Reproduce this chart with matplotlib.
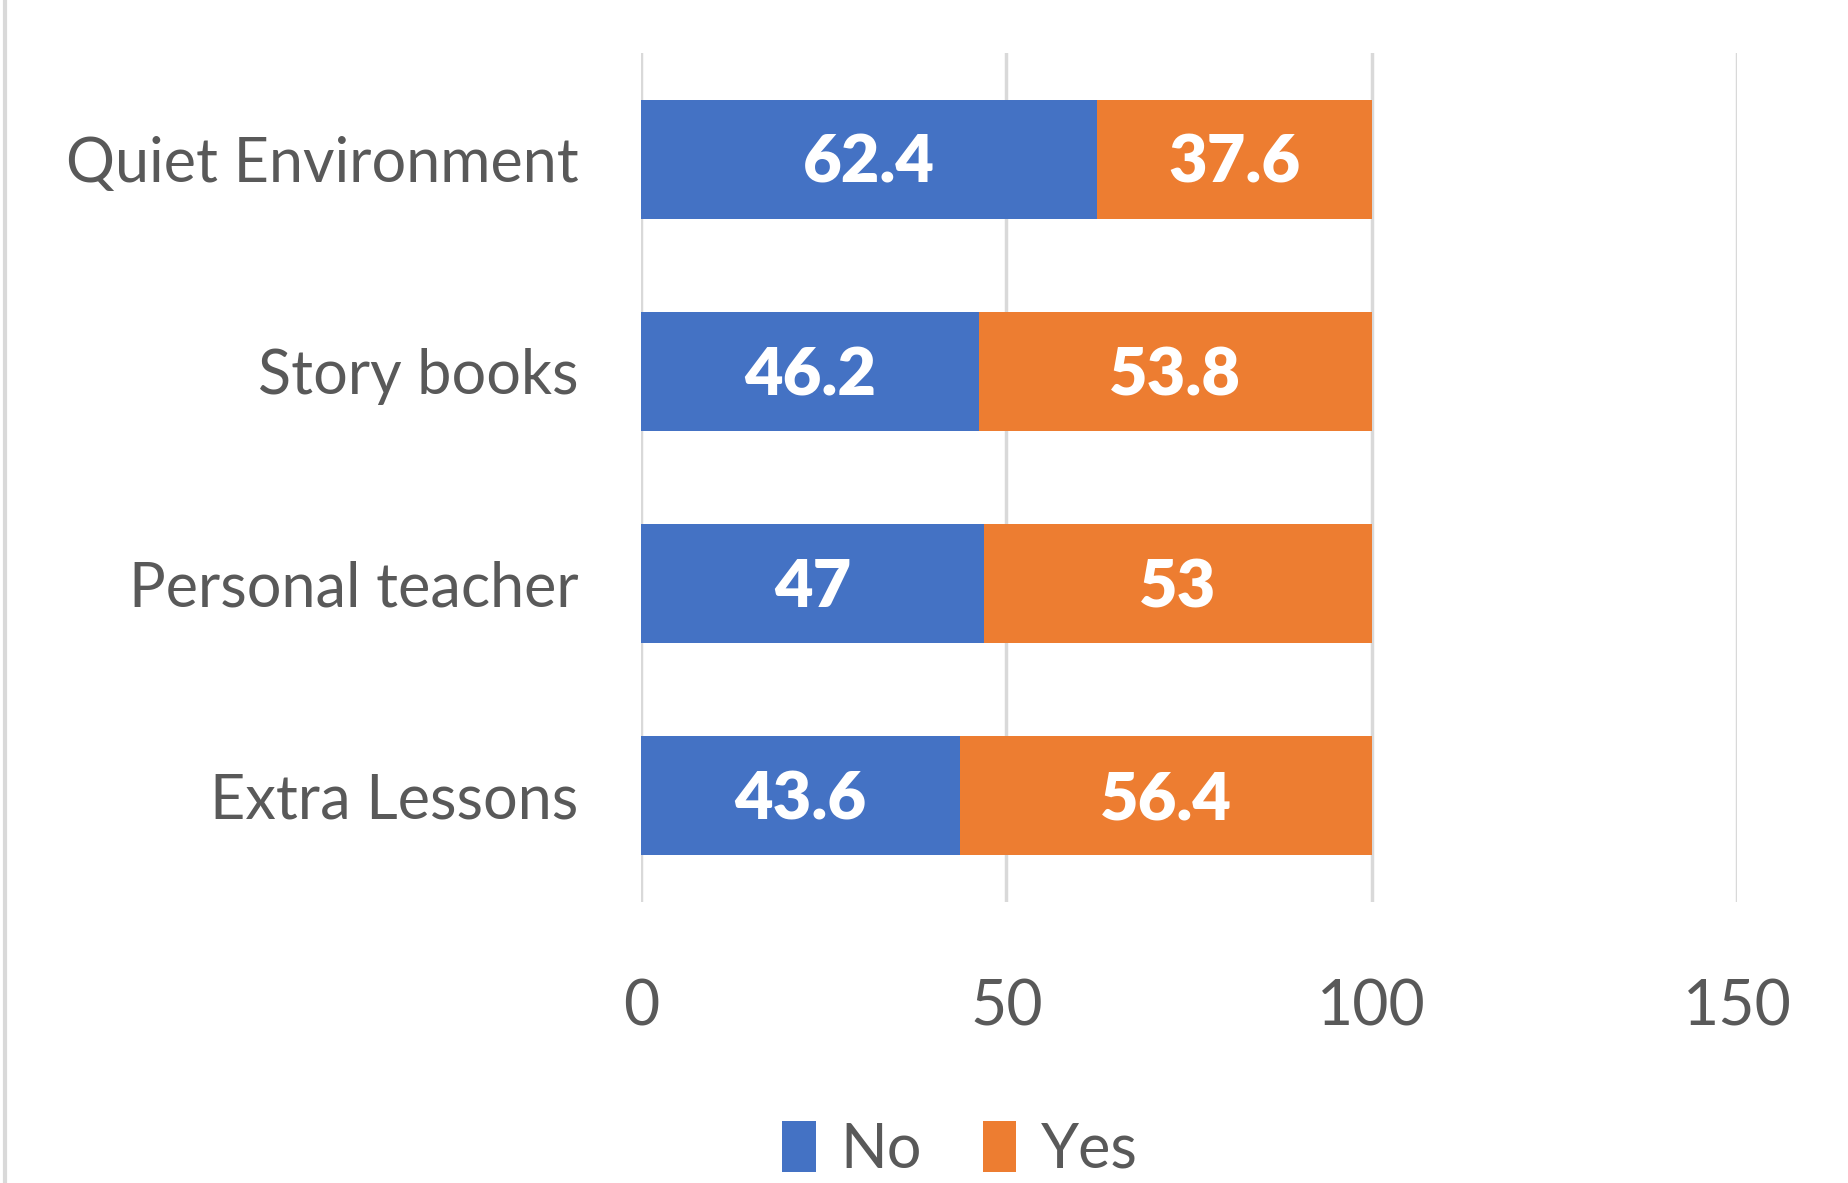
import numpy as np
import matplotlib
matplotlib.use('Agg')
import matplotlib.pyplot as plt
from matplotlib.lines import Line2D

plt.rcParams['font.family'] = ['Lato', 'DejaVu Sans']

#Chart data
categories = ['Quiet Environment', 'Story books', 'Personal teacher', 'Extra Lessons']
no_vals = [62.4, 46.2, 47, 43.6]
yes_vals = [37.6, 53.8, 53, 56.4]
no_labels = ['62.4', '46.2', '47', '43.6']
yes_labels = ['37.6', '53.8', '53', '56.4']

blue = '#4472C4'
orange = '#ED7D31'
text_grey = '#595959'
grid_grey = '#D9D9D9'

fig = plt.figure(figsize=(18.48, 11.83), dpi=100)
ax = fig.add_axes([641/1848, 1 - 902/1183, (1737 - 641)/1848, (902 - 53)/1183])

y = np.arange(len(categories))
b1 = ax.barh(y, no_vals, height=0.56, color=blue, label='No', zorder=3)
b2 = ax.barh(y, yes_vals, left=no_vals, height=0.56, color=orange, label='Yes', zorder=3)

for bars, labs in [(b1, no_labels), (b2, yes_labels)]:
    txts = ax.bar_label(bars, labels=labs, label_type='center', color='white',
                        fontsize=48, fontweight='heavy')
    for t in txts:
        t.set_va('center')
        t.set_position((0, -3))

ax.set_xlim(0, 150)
ax.set_ylim(len(categories) - 0.5, -0.5)
ax.set_xticks([0, 50, 100, 150])
ax.set_yticks(y)
ax.set_yticklabels(categories)
ax.tick_params(axis='y', length=0, pad=45, labelsize=44, labelcolor=text_grey)
ax.tick_params(axis='x', length=0, pad=55, labelsize=45, labelcolor=text_grey)
ax.xaxis.grid(True, color=grid_grey, lw=2.5, zorder=0)
for s in ax.spines.values():
    s.set_visible(False)

#Thin border on the left edge of the chart area
fig.add_artist(Line2D([5/1848, 5/1848], [0, 1], color=grid_grey, lw=3,
                      transform=fig.transFigure))

fig.legend(handles=[b1, b2], labels=['No', 'Yes'], loc='center',
           bbox_to_anchor=(960/1848, 1 - 1150/1183), ncol=2, frameon=False,
           fontsize=44, labelcolor=text_grey, handlelength=0.55, handleheight=0.9,
           handletextpad=0.4, columnspacing=1.0, borderpad=0.0)

fig.savefig('out.png', dpi=100)
